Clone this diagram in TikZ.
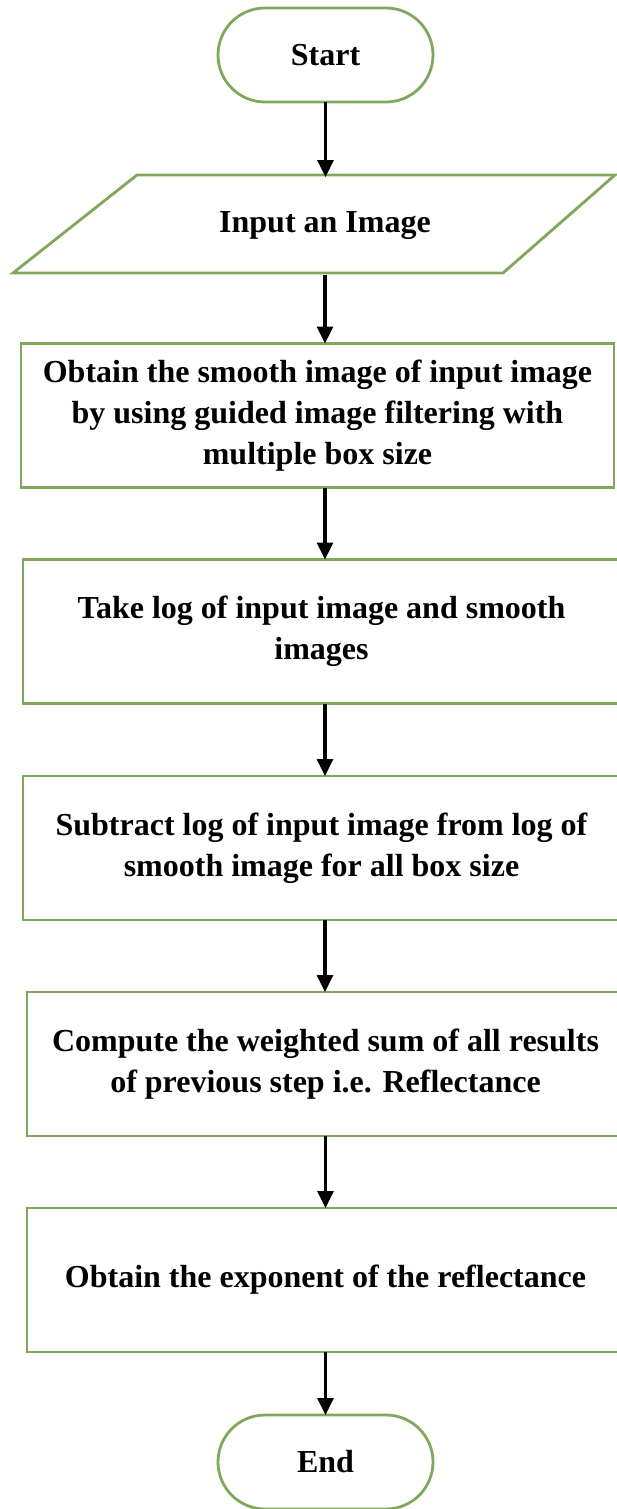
\documentclass[tikz,border=0pt]{standalone}
\usepackage{fontspec}
\setmainfont{Liberation Serif}
\usetikzlibrary{arrows.meta}
\definecolor{boxgreen}{RGB}{128,168,92}
\begin{document}
\begin{tikzpicture}[x=0.5pt,y=-0.5pt,
  lbl/.style={font=\bfseries\fontsize{16}{20.5}\selectfont,align=center,outer sep=0pt},
  term/.style={lbl,draw=boxgreen,line width=1.4pt,rounded corners=23.5pt,minimum width=107.5pt,minimum height=47pt},
  stepbox/.style={lbl,draw=boxgreen,line width=1.4pt,minimum height=72pt},
  flow/.style={-{Triangle[length=8.5pt,width=8pt]},line width=1.6pt}]
\useasboundingbox (0,0) rectangle (616,1509);
% start and input
\node[term] (start) at (325.5,55) {Start};
\draw[boxgreen,line width=1.4pt] (137,175) -- (615,175) -- (503,273) -- (13,273) -- cycle;
\node[lbl,minimum height=49pt] (inp) at (325,226) {Input an Image};
% process steps
\node[stepbox,minimum width=296.5pt] (smooth) at (317.5,415.5) {Obtain the smooth image of input image\\by using guided image filtering with\\multiple box size};
\node[stepbox,minimum width=298.5pt] (logs) at (321.5,631.5) {Take log of input image and smooth\\images};
\node[stepbox,minimum width=298.5pt] (diff) at (321.5,848) {Subtract log of input image from log of\\smooth image for all box size};
\node[stepbox,minimum width=298.5pt] (wsum) at (325.5,1064) {Compute the weighted sum of all results\\of previous step i.e. Reflectance};
\node[stepbox,minimum width=298.5pt] (expo) at (325.5,1280) {Obtain the exponent of the reflectance};
\node[term] (end) at (325.5,1462) {End};
% arrows
\draw[flow] (start.south) -- (start.south |- inp.north);
\draw[flow] (inp.south) -- (inp.south |- smooth.north);
\draw[flow] (inp.south |- smooth.south) -- (inp.south |- logs.north);
\draw[flow] (inp.south |- logs.south) -- (inp.south |- diff.north);
\draw[flow] (inp.south |- diff.south) -- (inp.south |- wsum.north);
\draw[flow] (wsum.south) -- (wsum.south |- expo.north);
\draw[flow] (expo.south) -- (end.north);
\end{tikzpicture}
\end{document}
